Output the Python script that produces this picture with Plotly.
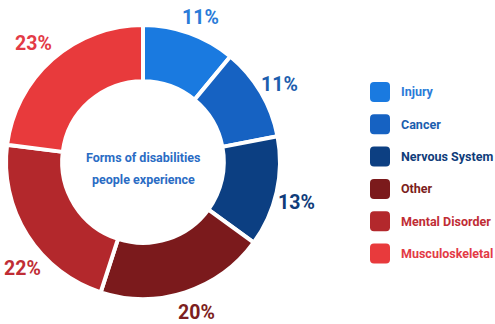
import math
import plotly.graph_objects as go

categories = ["Injury", "Cancer", "Nervous System", "Other", "Mental Disorder", "Musculoskeletal"]
values = [11, 11, 13, 20, 22, 23]
slice_colors = ["#1a7ae0", "#1662c2", "#0c3f82", "#7b1a1c", "#b3282c", "#e83a3c"]
text_colors = ["#2a7bd8", "#1c5eae", "#0f3c7a", "#7c1e20", "#c02d35", "#e33a46"]
center_title_lines = ["Forms of disabilities", "people experience"]

# style: small angular nudges (degrees) and radii for the outside value labels
label_nudge_deg = [2, 1, 2, -1.5, -9, -1.3]
label_radius = [156, 157, 159, 160, 161, 161]

W, H = 495, 324
FONT = "Roboto, Liberation Sans, sans-serif"

# donut geometry (pixels)
cx, cy, R = 143, 162, 137
dom_x = [(cx - R) / W, (cx + R) / W]
dom_y = [1 - (cy + R) / H, 1 - (cy - R) / H]

fig = go.Figure(go.Pie(
    labels=categories, values=values, sort=False, direction="clockwise", rotation=0,
    hole=0.59, marker=dict(colors=slice_colors, line=dict(color="white", width=4)),
    textinfo="none", showlegend=False, domain=dict(x=dom_x, y=dom_y),
))

annotations = []
total = sum(values)
cum = 0
for v, col, nd, r in zip(values, text_colors, label_nudge_deg, label_radius):
    theta = math.radians(360 * (cum + v / 2) / total + nd)
    cum += v
    px = cx + r * math.sin(theta)
    py = cy - r * math.cos(theta)
    annotations.append(dict(x=px / W, y=1 - py / H, xref="paper", yref="paper",
                            xanchor="center", yanchor="middle",
                            text=f"<b>{v}%</b>", showarrow=False,
                            font=dict(family=FONT, size=19.5, color=col)))

for i, line in enumerate(center_title_lines):
    annotations.append(dict(x=cx / W, y=1 - (158 + 21 * i) / H, xref="paper", yref="paper",
                            xanchor="center", yanchor="middle",
                            text=f"<b>{line}</b>", showarrow=False,
                            font=dict(family=FONT, size=12.5, color="#2a6cc4")))

# manual legend
shapes = []
lx, ly0, step, sz = 370, 92, 32.3, 20
for i, (name, sc, tc) in enumerate(zip(categories, slice_colors, text_colors)):
    yc = ly0 + i * step
    r = 4
    s = sz
    path = (f"M {r},0 L {s-r},0 Q {s},0 {s},{r} L {s},{s-r} Q {s},{s} {s-r},{s} "
            f"L {r},{s} Q 0,{s} 0,{s-r} L 0,{r} Q 0,0 {r},0 Z")
    shapes.append(dict(type="path", xref="paper", yref="paper", xsizemode="pixel", ysizemode="pixel",
                       xanchor=lx / W, yanchor=1 - (yc + sz / 2) / H, path=path,
                       fillcolor=sc, line=dict(color=sc, width=0)))
    annotations.append(dict(x=399 / W, y=1 - yc / H, xref="paper", yref="paper",
                            xanchor="left", yanchor="middle", text=f"<b>{name}</b>", showarrow=False,
                            font=dict(family=FONT, size=12.5, color=tc)))

fig.update_layout(width=W, height=H, margin=dict(l=0, r=0, t=0, b=0),
                  paper_bgcolor="white", plot_bgcolor="white",
                  annotations=annotations, shapes=shapes)
fig.write_html("out.html")
